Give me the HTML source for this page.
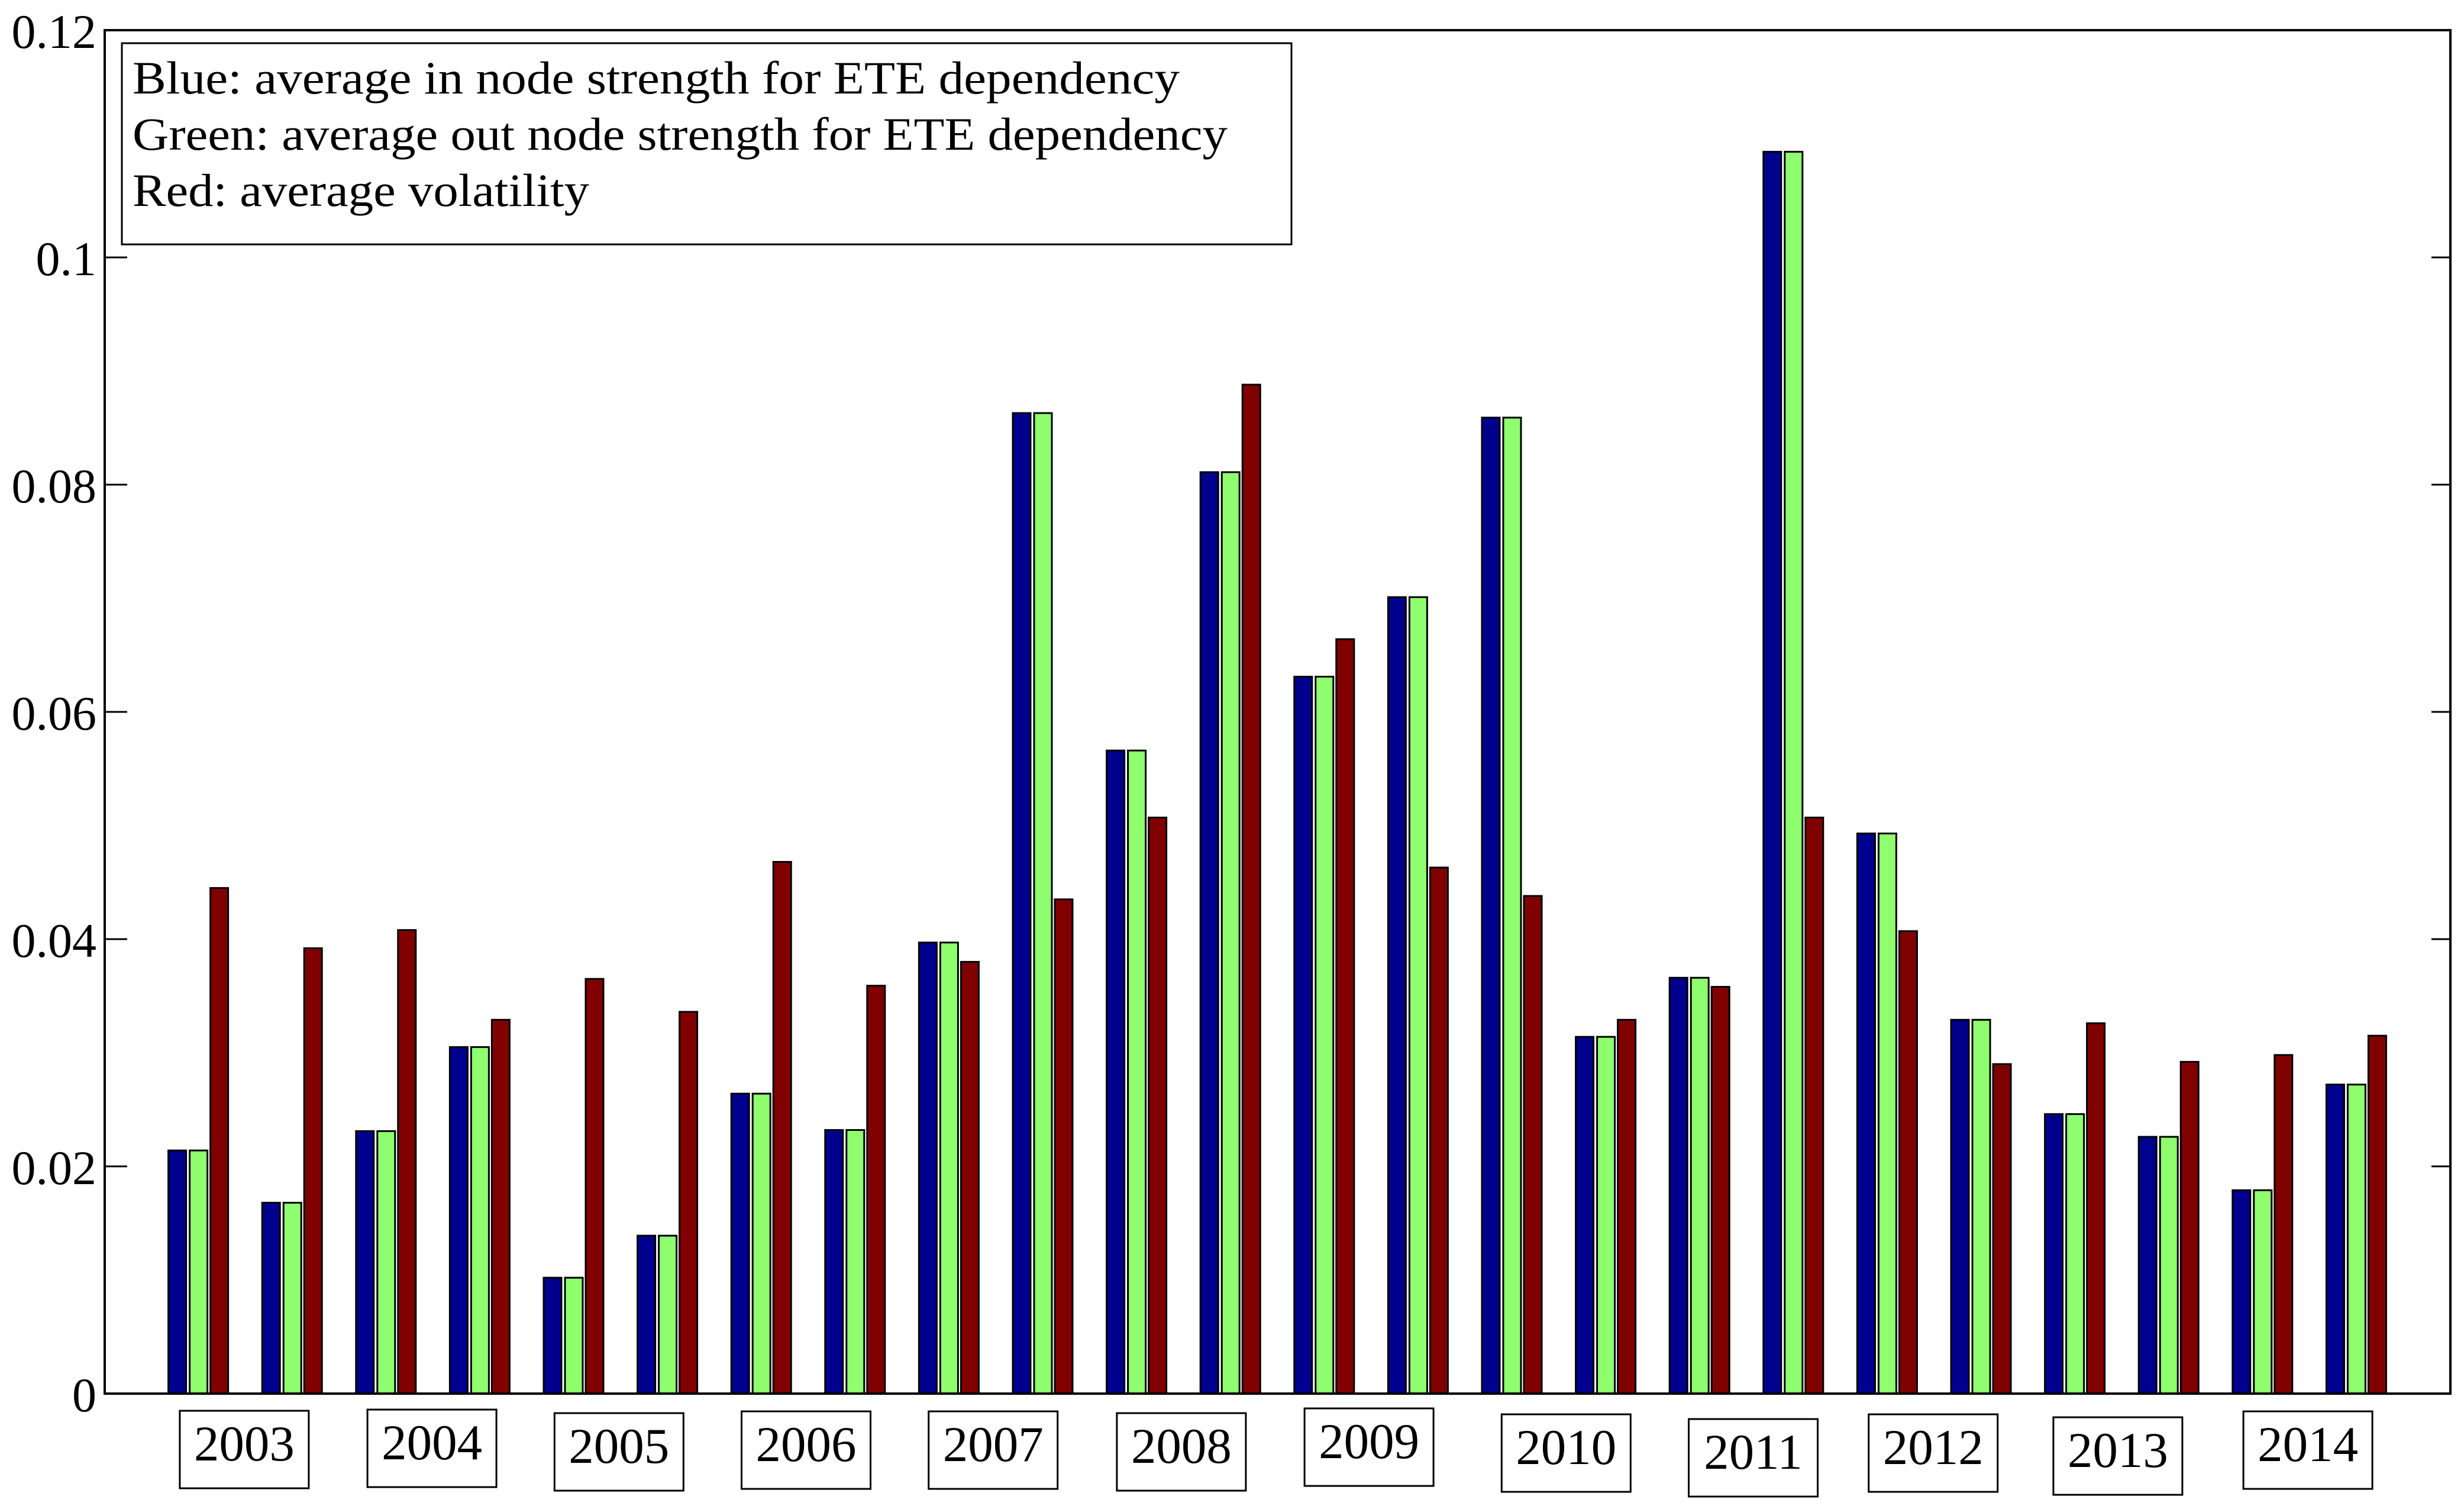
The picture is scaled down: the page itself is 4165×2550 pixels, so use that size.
<!DOCTYPE html>
<html><head><meta charset="utf-8"><style>
html,body{margin:0;padding:0;background:#fff;}
svg{display:block;font-family:"Liberation Serif",serif;}
</style></head><body>
<svg id="chart" width="4165" height="2550" viewBox="0 0 4165 2550" xmlns="http://www.w3.org/2000/svg">
<rect x="0" y="0" width="4165" height="2550" fill="#fff"/>
<g id="bars"></g>
<g id="axes"></g>
<g id="years"></g>
<g>
<rect x="206" y="73" width="1977" height="340" fill="#fff" stroke="#000" stroke-width="3"/>
<text x="224" y="158" font-size="78" textLength="1770" lengthAdjust="spacingAndGlyphs">Blue: average in node strength for ETE dependency</text>
<text x="224" y="253" font-size="78" textLength="1851" lengthAdjust="spacingAndGlyphs">Green: average out node strength for ETE dependency</text>
<text x="224" y="348" font-size="78" textLength="772" lengthAdjust="spacingAndGlyphs">Red: average volatility</text>
</g>
</svg>
<script>
const blueVals=[0.0214,0.0168,0.0231,0.0305,0.0102,0.0139,0.0264,0.0232,0.0397,0.0863,0.0566,0.0811,0.0631,0.0701,0.0859,0.0314,0.0366,0.1093,0.0493,0.0329,0.0246,0.0226,0.0179,0.0272];
const greenVals=[0.0214,0.0168,0.0231,0.0305,0.0102,0.0139,0.0264,0.0232,0.0397,0.0863,0.0566,0.0811,0.0631,0.0701,0.0859,0.0314,0.0366,0.1093,0.0493,0.0329,0.0246,0.0226,0.0179,0.0272];
const redVals=[0.0445,0.0392,0.0408,0.0329,0.0365,0.0336,0.0468,0.0359,0.0380,0.0435,0.0507,0.0888,0.0664,0.0463,0.0438,0.0329,0.0358,0.0507,0.0407,0.0290,0.0326,0.0292,0.0298,0.0315];
const yTicks=[0,0.02,0.04,0.06,0.08,0.1,0.12];
const yTickLabels=["0","0.02","0.04","0.06","0.08","0.1","0.12"];
const years=["2003","2004","2005","2006","2007","2008","2009","2010","2011","2012","2013","2014"];

const NS="http://www.w3.org/2000/svg";
const L=177,R=4142,T=51,B=2355;
const nX=blueVals.length+1;
function xs(i){return L+(R-L)*i/nX;}
function ys(v){return B-(B-T)*v/0.12;}
function mk(tag,attrs,parent){const e=document.createElementNS(NS,tag);for(const k in attrs)e.setAttribute(k,attrs[k]);parent.appendChild(e);return e;}
const gb=document.getElementById('bars');
const series=[[blueVals,'#00008f',-36,'blue'],[greenVals,'#8fff6f',0,'green'],[redVals,'#800000',35,'red']];
series.forEach(([vals,col,off,nm])=>{
  vals.forEach((v,i)=>{
    const cx=xs(i+1)+off;
    const r=mk('rect',{x:cx-15,y:ys(v),width:30,height:B-ys(v),fill:col,stroke:'#000','stroke-width':3},gb);
    
    
  });
});
const ga=document.getElementById('axes');
mk('rect',{x:L,y:T,width:R-L,height:B-T,fill:'none',stroke:'#000','stroke-width':4},ga);
yTicks.forEach((t,i)=>{
  const y=ys(t);
  mk('line',{x1:L,x2:L+38,y1:y,y2:y,stroke:'#000','stroke-width':3},ga);
  mk('line',{x1:R,x2:R-32,y1:y,y2:y,stroke:'#000','stroke-width':3},ga);
  const tx=mk('text',{x:163,y:y+30,'font-size':82,'text-anchor':'end'},ga);
  tx.textContent=yTickLabels[i];
  
  
});
const gy=document.getElementById('years');
const boxTop=[2384,2382,2388,2385,2385,2388,2380,2390,2398,2390,2395,2385];
const boxShift=[-2,-2,-3,-4,-5,-4,-4,12,11,-2,-7,-3];
years.forEach((yr,k)=>{
  const cx=(xs(2*k+1)+xs(2*k+2))/2+boxShift[k];
  const g=mk('g',{},gy);
  
  
  mk('rect',{x:cx-109,y:boxTop[k],width:218,height:131,fill:'#fff',stroke:'#000','stroke-width':3},g);
  const t=mk('text',{x:cx,y:boxTop[k]+84,'font-size':85,'text-anchor':'middle'},g);
  t.textContent=yr;
});
</script>
</body></html>
